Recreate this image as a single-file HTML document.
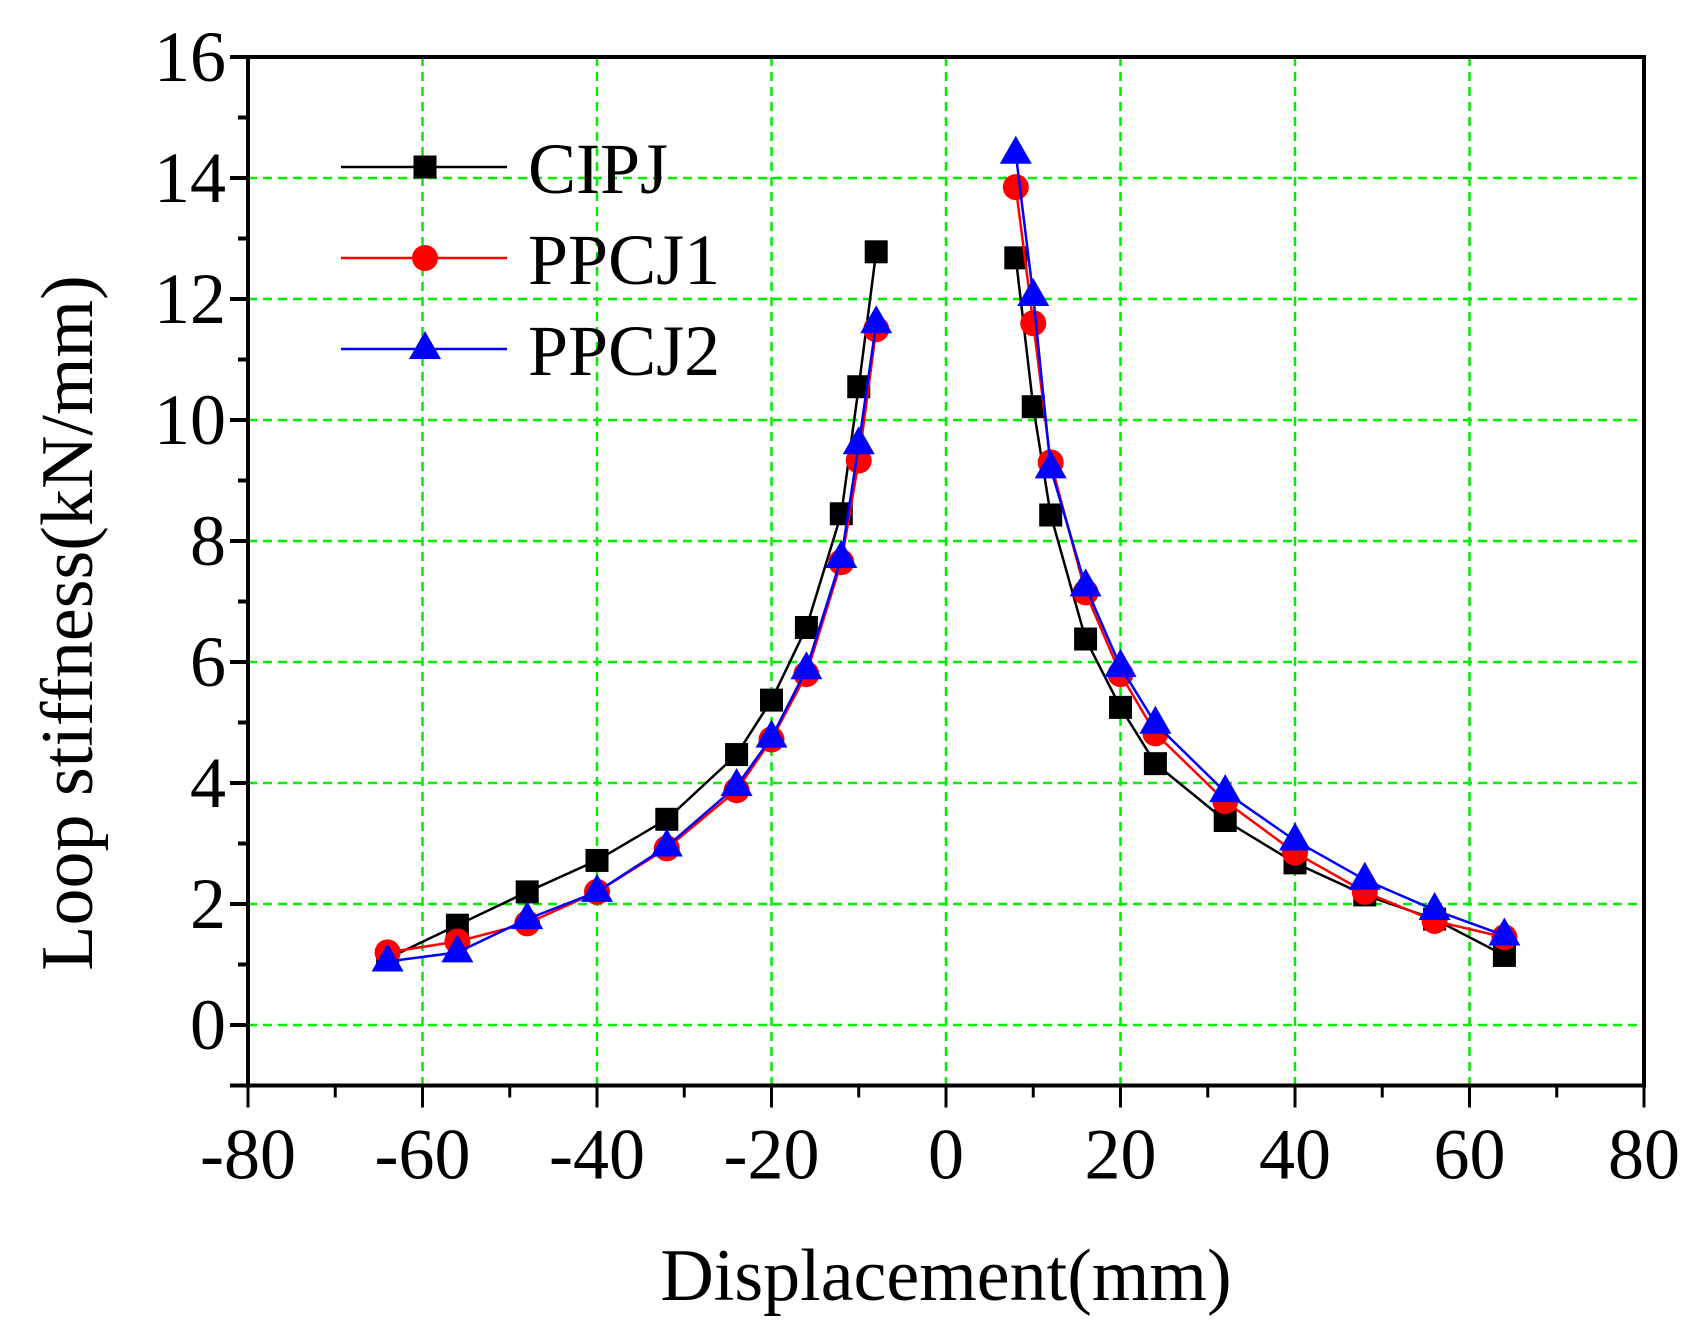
<!DOCTYPE html>
<html><head><meta charset="utf-8"><style>
html,body{margin:0;padding:0;background:#fff;}
svg{display:block;}
text{font-family:"Liberation Serif",serif;fill:#000;}
</style></head><body>
<svg id="s" width="1695" height="1339" viewBox="0 0 1695 1339" xmlns="http://www.w3.org/2000/svg"></svg>
<script>
const s=document.getElementById('s');
const X=v=>946+v*174.5/20, Y=v=>1025-v*60.5;
let h='';
// grid
for(let v=-60;v<=60;v+=20){h+=`<line x1="${X(v)}" y1="${Y(16)}" x2="${X(v)}" y2="${Y(-1)}" stroke="#00ee00" stroke-width="2.5" stroke-dasharray="9,6"/>`;}
for(let v=0;v<=14;v+=2){h+=`<line x1="${X(-80)}" y1="${Y(v)}" x2="${X(80)}" y2="${Y(v)}" stroke="#00ee00" stroke-width="2.5" stroke-dasharray="9,6"/>`;}
// axes
h+=`<rect x="${X(-80)}" y="${Y(16)}" width="${X(80)-X(-80)}" height="${Y(-1)-Y(16)}" fill="none" stroke="#000" stroke-width="4"/>`;
for(let v=0;v<=16;v++){const L=v%2==0?18:10;h+=`<line x1="${X(-80)-L}" y1="${Y(v)}" x2="${X(-80)}" y2="${Y(v)}" stroke="#000" stroke-width="4"/>`;
 if(v%2==0)h+=`<text x="${X(-80)-22}" y="${Y(v)+24}" font-size="72" text-anchor="end">${v}</text>`;}
h+=`<line x1="${X(-80)-18}" y1="${Y(-1)}" x2="${X(-80)}" y2="${Y(-1)}" stroke="#000" stroke-width="4"/>`;
for(let v=-80;v<=80;v+=10){const L=v%20==0?22:12;h+=`<line x1="${X(v)}" y1="${Y(-1)}" x2="${X(v)}" y2="${Y(-1)+L}" stroke="#000" stroke-width="3"/>`;
 if(v%20==0)h+=`<text x="${X(v)}" y="${Y(-1)+93}" font-size="72" text-anchor="middle">${v}</text>`;}
h+=`<text x="946" y="1300" font-size="74" text-anchor="middle">Displacement(mm)</text>`;
h+=`<text transform="translate(92,623) rotate(-90)" font-size="74" text-anchor="middle">Loop stiffness(kN/mm)</text>`;
const xs=[-64,-56,-48,-40,-32,-24,-20,-16,-12,-10,-8,8,10,12,16,20,24,32,40,48,56,64];
const D={
k:[1.1,1.65,2.2,2.72,3.4,4.47,5.37,6.57,8.45,10.55,12.78,12.68,10.22,8.43,6.38,5.25,4.32,3.38,2.68,2.15,1.75,1.15],
r:[1.2,1.38,1.68,2.2,2.92,3.88,4.72,5.8,7.65,9.33,11.5,13.85,11.6,9.3,7.15,5.8,4.82,3.7,2.85,2.2,1.72,1.45],
b:[1.05,1.2,1.75,2.2,2.95,3.95,4.75,5.88,7.72,9.6,11.6,14.4,12.05,9.2,7.25,5.92,4.98,3.85,3.05,2.4,1.9,1.48]};
const col={k:'#000',r:'#ff0000',b:'#0000ff'};
function mk(t,x,y){if(t=='k')return `<rect x="${x-11.5}" y="${y-11.5}" width="23" height="23" fill="#000"/>`;
 if(t=='r')return `<circle cx="${x}" cy="${y}" r="13" fill="#ff0000"/>`;
 return `<polygon points="${x},${y-18} ${x-16},${y+10} ${x+16},${y+10}" fill="#0000ff"/>`;}
for(const t of ['k','r','b']){
 for(const [a,b] of [[0,11],[11,22]]){let p=[];for(let i=a;i<b;i++)p.push(X(xs[i])+','+Y(D[t][i]));
  h+=`<polyline points="${p.join(' ')}" fill="none" stroke="${col[t]}" stroke-width="2.5"/>`;}
 for(let i=0;i<22;i++)h+=mk(t,X(xs[i]),Y(D[t][i]));
}
// legend
const L=[['k','CIPJ',167],['r','PPCJ1',258],['b','PPCJ2',349]];
for(const [t,n,y] of L){h+=`<line x1="341" y1="${y}" x2="507" y2="${y}" stroke="${col[t]}" stroke-width="2.5"/>`+mk(t,425,y)+`<text x="528" y="${y+26}" font-size="72">${n}</text>`;}
s.innerHTML=h;
</script>
</body></html>
